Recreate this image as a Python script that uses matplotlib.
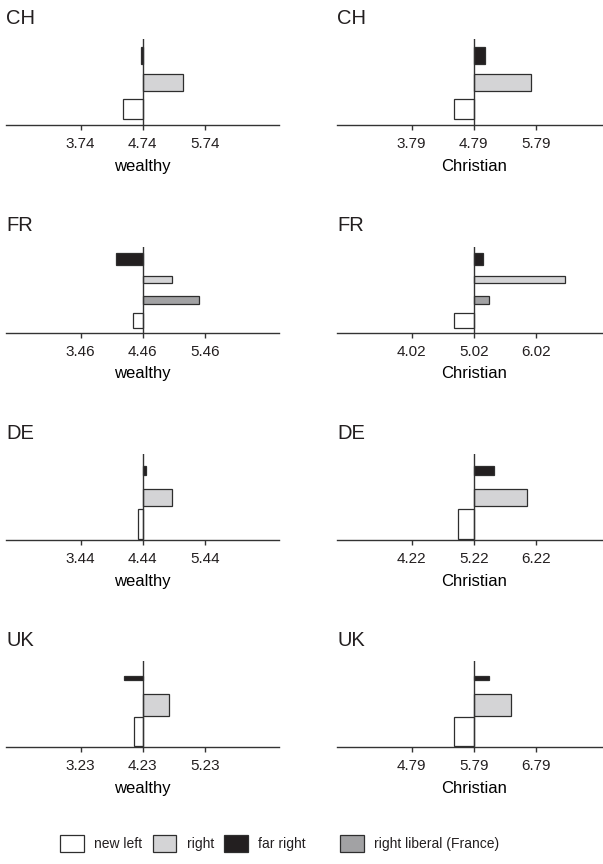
import matplotlib
matplotlib.use('Agg')
import matplotlib.pyplot as plt
from matplotlib.patches import Patch

plt.rcParams['font.family'] = ['Liberation Sans', 'DejaVu Sans']
plt.rcParams['text.color'] = '#231f20'
plt.rcParams['xtick.color'] = '#333333'
plt.rcParams['xtick.labelcolor'] = '#231f20'

countries = ['CH', 'FR', 'DE', 'UK']

# parties from bottom to top bar
parties_std = ['new left', 'right', 'far right']
parties_fr = ['new left', 'right liberal (France)', 'right', 'far right']

# scale midpoints (centre line of each panel)
wealthy_mid = [4.74, 4.46, 4.44, 4.23]
christian_mid = [4.79, 5.02, 5.22, 5.79]

# party means, same order as the party lists
ch_wealthy = [4.42, 5.39, 4.72]
fr_wealthy = [4.31, 5.37, 4.94, 4.03]
de_wealthy = [4.36, 4.92, 4.50]
uk_wealthy = [4.09, 4.65, 3.93]

ch_christian = [4.48, 5.71, 4.97]
fr_christian = [4.71, 5.27, 6.50, 5.17]
de_christian = [4.97, 6.08, 5.54]
uk_christian = [5.48, 6.39, 6.04]

wealthy = [ch_wealthy, fr_wealthy, de_wealthy, uk_wealthy]
christian = [ch_christian, fr_christian, de_christian, uk_christian]
party_lists = [parties_std, parties_fr, parties_std, parties_std]

# bar thickness differs from country to country in the original
thick = [[0.77, 0.62, 0.62],
         [0.74, 0.39, 0.36, 0.58],
         [1.10, 0.62, 0.31],
         [1.10, 0.82, 0.17]]

colors = {'new left': 'white', 'right': '#d4d4d6', 'far right': '#231f20',
          'right liberal (France)': '#a2a2a4'}
edge = '#2e2e2e'

W, H = 603., 864.
fig = plt.figure(figsize=(W / 100, H / 100), dpi=100)

col_left = [6.3, 337.3]
base = [125, 332.7, 540, 747.3]
ax_w = 272.8
ax_h = 86

for i, c in enumerate(countries):
    panels = [(wealthy_mid[i], wealthy[i], 'wealthy'),
              (christian_mid[i], christian[i], 'Christian')]
    for j, (mid, vals, lab) in enumerate(panels):
        ax = fig.add_axes([col_left[j] / W, 1 - base[i] / H, ax_w / W, ax_h / H])
        n = len(vals)
        ax.barh(range(n), [v - mid for v in vals], left=mid, height=thick[i],
                color=[colors[p] for p in party_lists[i]],
                edgecolor=edge, linewidth=0.9, zorder=2)
        ax.axvline(mid, color='#333333', lw=1.0, zorder=3)
        ax.set_xlim(mid - 2.2, mid + 2.2)
        ax.set_ylim(-0.6, n - 0.38)
        ticks = [mid - 1, mid, mid + 1]
        ax.set_xticks(ticks)
        ax.set_xticklabels(['%.2f' % t for t in ticks])
        ax.set_yticks([])
        for s in ['left', 'right', 'top']:
            ax.spines[s].set_visible(False)
        ax.spines['bottom'].set_color('#333333')
        ax.spines['bottom'].set_linewidth(1.0)
        ax.tick_params(axis='x', length=3.6, width=1.0, pad=5, labelsize=11)
        ax.set_title(c, loc='left', pad=11, fontsize=14.5)
        ax.set_xlabel(lab, fontsize=12, labelpad=5.5)

# legend in two pieces: the France-only entry sits a bit further right
leg_kw = dict(ncol=3, frameon=False, fontsize=10, handlelength=1.7, handleheight=1.5,
              handletextpad=0.75, columnspacing=0.75, borderpad=0, borderaxespad=0)
h1 = [Patch(facecolor=colors[p], edgecolor=edge, linewidth=0.9) for p in parties_std]
leg1 = fig.legend(h1, parties_std, loc='center left',
                  bbox_to_anchor=(60 / W, 1 - 843.7 / H), **leg_kw)
h2 = [Patch(facecolor=colors['right liberal (France)'], edgecolor=edge, linewidth=0.9)]
fig.legend(h2, ['right liberal (France)'], loc='center left',
           bbox_to_anchor=(340 / W, 1 - 843.7 / H), **leg_kw)

fig.savefig('out.png', dpi=100)
